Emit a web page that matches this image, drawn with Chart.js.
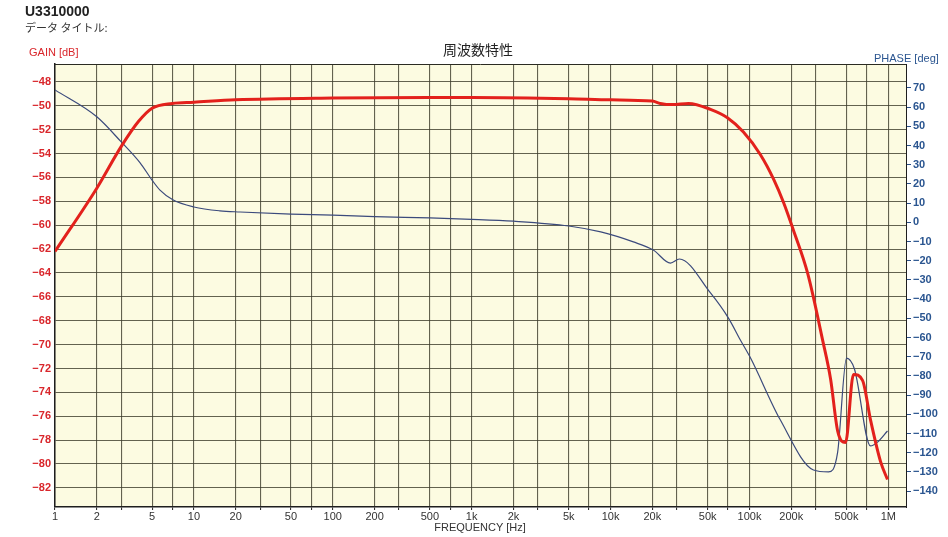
<!DOCTYPE html>
<html>
<head>
<meta charset="utf-8">
<script src="https://cdn.jsdelivr.net/npm/chart.js@4"></script>
<style>
  body { margin: 0; background: #fff; }
  #wrap { position: relative; width: 948px; height: 537px; font-family: "Liberation Sans", Arial, sans-serif; }
  #wrap canvas { position: absolute; left: 0; top: 0; }
  .lbl { position: absolute; white-space: nowrap; }
</style>
</head>
<body>
<div id="wrap">
  <canvas id="freqChart" width="948" height="537"></canvas>
  <div class="lbl" style="left:25px;top:3px;font-size:14px;font-weight:bold;color:#222;">U3310000</div>
  <div class="lbl" style="left:25px;top:19px;font-size:11px;color:#333;font-family:'Noto Sans CJK JP',sans-serif;">データ タイトル:</div>
  <div class="lbl" style="left:29px;top:46px;font-size:11px;color:#d9262b;">GAIN [dB]</div>
  <div class="lbl" style="left:478px;top:39px;transform:translateX(-50%);font-size:14px;color:#222;font-family:'Noto Sans CJK JP',sans-serif;">周波数特性</div>
  <div class="lbl" style="left:874px;top:52px;font-size:11px;color:#2a5590;">PHASE [deg]</div>
  <div class="lbl" style="left:480px;top:521px;transform:translateX(-50%);font-size:11px;color:#333;">FREQUENCY [Hz]</div>
</div>
<script>
// Gain curve (red)
const gainFreq = [1, 2, 3, 4, 5, 7, 10, 20, 100, 500, 1000, 5000, 10000, 20000, 22800, 27900, 36400, 52400, 69400, 90500, 120000, 150000, 176000, 207000, 262000, 336000, 384000, 431000, 492000, 561000, 652000, 744000, 879000, 986000];
const gainDb   = [-62.2, -56.9, -53.4, -51.3, -50.2, -49.8, -49.7, -49.5, -49.35, -49.3, -49.3, -49.4, -49.5, -49.6, -49.8, -49.9, -49.8, -50.3, -51.0, -52.2, -54.1, -56.2, -58.1, -60.4, -64.0, -69.6, -72.9, -77.2, -78.2, -72.5, -73.0, -76.3, -79.8, -81.3];

// Phase curve (blue)
const phaseFreq = [1, 2, 3, 4.1, 5, 5.7, 7.1, 10, 15.4, 21.5, 50, 100, 200, 500, 1000, 2000, 5000, 8500, 14600, 20300, 27000, 31300, 52400, 70600, 86000, 101000, 167000, 289000, 371000, 431000, 500000, 570000, 744000, 836000, 986000];
const phaseDeg  = [69, 55, 41.9, 31, 22, 16.8, 11.6, 8, 6, 5.4, 4.3, 3.8, 3.0, 2.3, 1.6, 0.6, -1.9, -5.0, -10.2, -14.4, -21.2, -19.1, -36.8, -49.9, -61.3, -70.2, -103, -129, -130, -120, -70.7, -76.4, -116.5, -114.5, -108.7];

// Axis ticks
const gainTicks = [-48, -50, -52, -54, -56, -58, -60, -62, -64, -66, -68, -70, -72, -74, -76, -78, -80, -82];
const phaseTicks = [70, 60, 50, 40, 30, 20, 10, 0, -10, -20, -30, -40, -50, -60, -70, -80, -90, -100, -110, -120, -130, -140];
const freqGrid = [1, 2, 3, 5, 7, 10, 20, 30, 50, 70, 100, 200, 300, 500, 700, 1000, 2000, 3000, 5000, 7000,
                  10000, 20000, 30000, 50000, 70000, 100000, 200000, 300000, 500000, 700000, 1000000];
const freqLabelValues = [1, 2, 5, 10, 20, 50, 100, 200, 500, 1000, 2000, 5000, 10000, 20000, 50000, 100000, 200000, 500000, 1000000];
const freqLabelText   = ['1', '2', '5', '10', '20', '50', '100', '200', '500', '1k', '2k', '5k', '10k', '20k', '50k', '100k', '200k', '500k', '1M'];

const plotBackground = {
    id: 'plotBackground',
    beforeDraw(chart) {
        const { ctx, chartArea: a } = chart;
        ctx.save();
        ctx.fillStyle = '#fcfbe1';
        ctx.fillRect(a.left, a.top, a.right - a.left, a.bottom - a.top);
        ctx.restore();
    },
    afterDraw(chart) {
        // thin top border of the plot
        const { ctx, chartArea: a } = chart;
        ctx.save();
        ctx.strokeStyle = '#2b2b22';
        ctx.lineWidth = 1;
        ctx.beginPath();
        ctx.moveTo(a.left, a.top + 0.5);
        ctx.lineTo(a.right, a.top + 0.5);
        ctx.stroke();
        ctx.restore();
    }
};

const minus = v => String(v).replace('-', '\u2212');
const gridColor = 'rgba(60,60,42,0.8)';

new Chart(document.getElementById('freqChart'), {
    type: 'line',
    data: {
        datasets: [
            {
                label: 'GAIN',
                data: gainFreq.map((f, i) => ({ x: f, y: gainDb[i] })),
                borderColor: '#e3211c',
                borderWidth: 3,
                pointRadius: 0,
                cubicInterpolationMode: 'monotone',
                yAxisID: 'y',
                order: 1
            },
            {
                label: 'PHASE',
                data: phaseFreq.map((f, i) => ({ x: f, y: phaseDeg[i] })),
                borderColor: '#3b4a7c',
                borderWidth: 1.2,
                pointRadius: 0,
                cubicInterpolationMode: 'monotone',
                yAxisID: 'y2',
                order: 2
            }
        ]
    },
    options: {
        responsive: false,
        animation: false,
        layout: { padding: { top: 64, left: 0, right: 0, bottom: 0 } },
        plugins: {
            legend: { display: false },
            tooltip: { enabled: false }
        },
        scales: {
            x: {
                type: 'logarithmic',
                min: 1,
                max: 1340000,
                afterBuildTicks: axis => { axis.ticks = freqGrid.map(v => ({ value: v })); },
                afterFit: scale => { scale.height = 30; },
                grid: { color: gridColor, lineWidth: 1.1, tickLength: 3, tickColor: '#333' },
                border: { color: '#1e1e1e', width: 1.5 },
                ticks: {
                    autoSkip: false,
                    maxRotation: 0,
                    padding: 0,
                    color: '#333',
                    font: { family: 'Liberation Sans', size: 11 },
                    callback: value => {
                        const i = freqLabelValues.indexOf(value);
                        return i >= 0 ? freqLabelText[i] : '';
                    }
                }
            },
            y: {
                position: 'left',
                min: -83.6,
                max: -46.5,
                afterBuildTicks: axis => { axis.ticks = gainTicks.map(v => ({ value: v })); },
                afterFit: scale => { scale.width = 55; },
                grid: { color: gridColor, lineWidth: 1.1, drawTicks: false },
                border: { color: '#1e1e1e', width: 1.5 },
                ticks: {
                    padding: 4,
                    color: '#d9262b',
                    font: { family: 'Liberation Sans', size: 11, weight: 'bold' },
                    callback: v => minus(v)
                }
            },
            y2: {
                position: 'right',
                min: -148.3,
                max: 82.5,
                afterBuildTicks: axis => { axis.ticks = phaseTicks.map(v => ({ value: v })); },
                afterFit: scale => { scale.width = 42; },
                grid: { drawOnChartArea: false, tickLength: 5, tickColor: '#2a4f86' },
                border: { color: '#1e1e1e', width: 1 },
                ticks: {
                    padding: 2,
                    color: '#2a5590',
                    font: { family: 'Liberation Sans', size: 11, weight: 'bold' },
                    callback: v => minus(v)
                }
            }
        }
    },
    plugins: [plotBackground]
});
</script>
</body>
</html>
